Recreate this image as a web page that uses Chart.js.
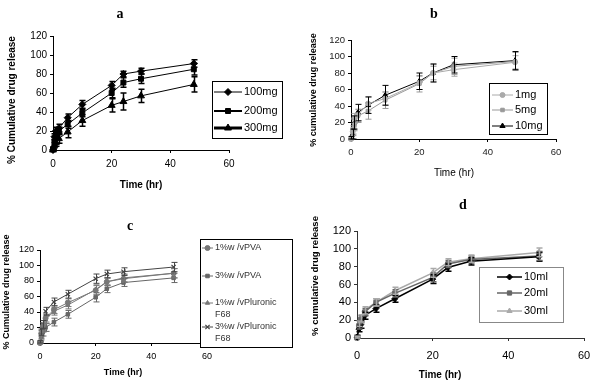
<!DOCTYPE html>
<html>
<head>
<meta charset="utf-8">
<script src="https://cdn.jsdelivr.net/npm/chart.js@4.4.1/dist/chart.umd.min.js"></script>
<style>
  body { margin: 0; width: 600px; height: 384px; background: #fff; position: relative; overflow: hidden; }
  canvas { position: absolute; }
</style>
</head>
<body>
<canvas id="chartA" width="300" height="192" style="left:0;top:0"></canvas>
<canvas id="chartB" width="300" height="192" style="left:300px;top:0"></canvas>
<canvas id="chartC" width="300" height="192" style="left:0;top:192px"></canvas>
<canvas id="chartD" width="300" height="192" style="left:300px;top:192px"></canvas>
<script>
// Tiempos de muestreo (hr)
const hours = [0, 0.5, 1, 2, 5, 10, 20, 24, 30, 48];
const xTicks = [0, 20, 40, 60];
const yTicks = [0, 20, 40, 60, 80, 100, 120];

// Panel a
const labelsA = ['100mg', '200mg', '300mg'];
const a100 = [0, 14, 20, 23, 34, 48, 68, 80, 83, 91];
const a200 = [1, 8, 15, 20, 27, 39, 60, 71, 75, 85];
const a300 = [0, 5, 8, 12, 19, 31, 47, 51, 57, 69];
const errA100 = [1, 3, 4, 4, 4, 4, 4, 3, 3, 4];
const errA200 = [1, 3, 3, 4, 4, 4, 5, 5, 5, 6];
const errA300 = [1, 3, 4, 5, 6, 6, 7, 9, 7, 8];

// Panel b
const labelsB = ['1mg', '5mg', '10mg'];
const b1 = [0, 9, 25, 29, 43, 49, 68, 80, 84, 93];
const b5 = [0, 11, 17, 28, 34, 47, 67, 80, 88, 94];
const b10 = [1, 6, 20, 32, 41, 53, 70, 80, 90, 95];
const errB1 = [1, 5, 6, 7, 8, 8, 8, 8, 8, 8];
const errB5 = [1, 5, 7, 8, 10, 10, 10, 10, 10, 11];
const errB10 = [2, 6, 8, 10, 10, 12, 10, 11, 10, 11];

// Panel c
const labelsC = [['1%w /vPVA'], ['3%w /vPVA'], ['1%w /vPluronic', 'F68'], ['3%w /vPluronic', 'F68']];
const cPva1 = [0, 12, 21, 32, 43, 52, 68, 79, 83, 90];
const cPva3 = [0, 8, 14, 20, 27, 37, 59, 70, 78, 84];
const cPlu1 = [0, 10, 19, 30, 41, 49, 69, 79, 84, 90];
const cPlu3 = [1, 14, 24, 41, 53, 63, 83, 89, 92, 98];
const errC = [2, 4, 5, 5, 5, 5, 6, 5, 5, 6];

// Panel d
const labelsD = ['10ml', '20ml', '30ml'];
const d10 = [1, 10, 15, 25, 33, 44, 66, 79, 86, 91];
const d20 = [0, 13, 21, 29, 40, 50, 68, 83, 88, 92];
const d30 = [0, 16, 22, 31, 40, 53, 73, 85, 89, 96];
const errD = [2, 3, 4, 4, 4, 4, 5, 4, 4, 5];

function pts(vals) {
  return hours.map((t, i) => ({ x: t, y: vals[i] }));
}

function series(label, vals, err, color, style, radius, width, legendWidth) {
  return {
    label: label,
    data: pts(vals),
    err: err,
    borderColor: color,
    backgroundColor: color,
    pointBackgroundColor: color,
    pointBorderColor: color,
    pointStyle: style,
    pointRadius: radius,
    pointBorderWidth: style === 'crossRot' ? 1.2 : 1,
    borderWidth: width,
    tension: 0,
    clip: false,
    legendWidth: legendWidth || width
  };
}

// Plugin: barras de error, textos y leyenda dibujada a mano
const panelDecor = {
  id: 'panelDecor',
  afterDatasetsDraw(chart, args, o) {
    const ctx = chart.ctx;
    const xs = chart.scales.x, ys = chart.scales.y;
    chart.data.datasets.forEach(ds => {
      if (!ds.err) return;
      ctx.save();
      ctx.strokeStyle = ds.borderColor;
      ctx.lineWidth = o.errWidth;
      ds.data.forEach((p, i) => {
        const e = ds.err[i];
        if (!e) return;
        const px = Math.round(xs.getPixelForValue(p.x)) + 0.5;
        const top = ys.getPixelForValue(p.y + e);
        const bot = ys.getPixelForValue(Math.max(p.y - e, 0));
        ctx.beginPath();
        ctx.moveTo(px, top); ctx.lineTo(px, bot);
        ctx.moveTo(px - 3, top); ctx.lineTo(px + 3, top);
        ctx.moveTo(px - 3, bot); ctx.lineTo(px + 3, bot);
        ctx.stroke();
      });
      ctx.restore();
    });
  },
  afterDraw(chart, args, o) {
    const ctx = chart.ctx;
    ctx.save();
    ctx.fillStyle = '#000';
    ctx.textBaseline = 'middle';
    // letra del panel
    ctx.font = 'bold 14px "Liberation Serif"';
    ctx.textAlign = 'center';
    ctx.fillText(o.letter, o.letterPos[0], o.letterPos[1]);
    // título eje x
    ctx.font = o.xFont;
    ctx.fillText('Time (hr)', o.xLabelPos[0], o.xLabelPos[1]);
    // título eje y
    ctx.save();
    ctx.translate(o.yLabelPos[0], o.yLabelPos[1]);
    ctx.rotate(-Math.PI / 2);
    ctx.font = o.yFont;
    ctx.fillText(o.yLabel, 0, 0);
    ctx.restore();
    // leyenda
    const b = o.legendBox;
    ctx.fillStyle = '#fff';
    ctx.fillRect(b[0], b[1], b[2] - b[0], b[3] - b[1]);
    ctx.strokeStyle = o.legendBorder;
    ctx.lineWidth = 1;
    ctx.strokeRect(b[0] + 0.5, b[1] + 0.5, b[2] - b[0], b[3] - b[1]);
    ctx.font = o.legendFont;
    ctx.textAlign = 'left';
    chart.data.datasets.forEach((ds, i) => {
      const y = o.legendRows[i];
      ctx.strokeStyle = ds.borderColor;
      ctx.fillStyle = ds.borderColor;
      ctx.lineWidth = ds.legendWidth;
      ctx.beginPath();
      ctx.moveTo(o.legendLine[0], y);
      ctx.lineTo(o.legendLine[1], y);
      ctx.stroke();
      ctx.lineWidth = ds.pointBorderWidth;
      Chart.helpers.drawPoint(ctx, { pointStyle: ds.pointStyle, radius: ds.pointRadius, rotation: 0, borderWidth: ds.pointBorderWidth },
        (o.legendLine[0] + o.legendLine[1]) / 2, y);
      ctx.fillStyle = o.legendTextColor;
      const lines = Array.isArray(ds.label) ? ds.label : [ds.label];
      lines.forEach((t, k) => ctx.fillText(t, o.legendLine[1] + 2, y + k * o.legendLineGap));
    });
    ctx.restore();
  }
};

function makeChart(id, datasets, geo, tickFont, tickColor) {
  const W = 300, H = 192;
  return new Chart(document.getElementById(id), {
    type: 'line',
    data: { datasets: datasets },
    plugins: [panelDecor],
    options: {
      responsive: false,
      animation: false,
      layout: { padding: { left: 0, bottom: 0, top: geo.area[1], right: W - geo.area[2] } },
      plugins: {
        legend: { display: false },
        tooltip: { enabled: false },
        panelDecor: geo
      },
      scales: {
        x: {
          type: 'linear', min: 0, max: 60,
          afterBuildTicks: s => { s.ticks = xTicks.map(v => ({ value: v })); },
          afterFit: s => { s.height = H - geo.area[3]; },
          grid: { drawOnChartArea: false, color: geo.axisColor, tickLength: 3 },
          border: { color: geo.axisColor, width: 1 },
          ticks: { color: tickColor, font: tickFont, padding: geo.xTickPad, maxRotation: 0 }
        },
        y: {
          min: 0, max: 120,
          afterBuildTicks: s => { s.ticks = yTicks.map(v => ({ value: v })); },
          afterFit: s => { s.width = geo.area[0]; },
          grid: { drawOnChartArea: false, color: geo.axisColor, tickLength: 3 },
          border: { color: geo.axisColor, width: 1 },
          ticks: { color: tickColor, font: tickFont, padding: 3 }
        }
      }
    }
  });
}

makeChart('chartA', [
  series(labelsA[0], a100, errA100, '#000', 'rectRot', 3.5, 1, 1),
  series(labelsA[1], a200, errA200, '#000', 'rect', 3.5, 1, 2),
  series(labelsA[2], a300, errA300, '#000', 'triangle', 4, 1, 3)
], {
  area: [53, 36, 229, 150], axisColor: '#000', xTickPad: 5, errWidth: 1.5,
  letter: 'a', letterPos: [120, 14],
  xLabelPos: [141, 185], xFont: 'bold 10px "Liberation Sans"',
  yLabel: '% Cumulative drug release', yLabelPos: [12, 100], yFont: 'bold 10px "Liberation Sans"',
  legendBox: [212, 81, 282, 138], legendRows: [92, 111, 128], legendLine: [214, 242], legendBorder: '#000',
  legendFont: '11px "Liberation Sans"', legendTextColor: '#000', legendLineGap: 11
}, { family: 'Liberation Sans', size: 10 }, '#000');

makeChart('chartB', [
  series(labelsB[0], b1, errB1, '#aaa', 'circle', 2.5, 1),
  series(labelsB[1], b5, errB5, '#999', 'rect', 2.5, 1),
  series(labelsB[2], b10, errB10, '#000', 'triangle', 3, 1)
], {
  area: [51, 40, 256, 139], axisColor: '#000', xTickPad: 5, errWidth: 1,
  letter: 'b', letterPos: [134, 14],
  xLabelPos: [154, 173], xFont: '10px "Liberation Sans"',
  yLabel: '% cumulative drug release', yLabelPos: [14, 90], yFont: 'bold 9px "Liberation Sans"',
  legendBox: [189, 83, 247, 134], legendRows: [95, 110, 126], legendLine: [192, 213], legendBorder: '#000',
  legendFont: '11px "Liberation Sans"', legendTextColor: '#000', legendLineGap: 11
}, { family: 'Liberation Sans', size: 9.5 }, '#222');

makeChart('chartC', [
  series(labelsC[0], cPva1, errC, '#777', 'circle', 2.5, 1),
  series(labelsC[1], cPva3, errC, '#666', 'rect', 2.5, 1),
  series(labelsC[2], cPlu1, errC, '#777', 'triangle', 2.5, 1),
  series(labelsC[3], cPlu3, errC, '#444', 'crossRot', 3, 1)
], {
  area: [40, 58, 207, 151], axisColor: '#000', xTickPad: 5, errWidth: 1,
  letter: 'c', letterPos: [130, 34],
  xLabelPos: [123, 181], xFont: 'bold 9px "Liberation Sans"',
  yLabel: '% Cumulative drug release', yLabelPos: [7, 100], yFont: 'bold 9px "Liberation Sans"',
  legendBox: [200, 47, 292, 155], legendRows: [56, 84, 111, 135], legendLine: [202, 213], legendBorder: '#000',
  legendFont: '9px "Liberation Sans"', legendTextColor: '#333', legendLineGap: 12
}, { family: 'Liberation Sans', size: 9 }, '#000');

makeChart('chartD', [
  series(labelsD[0], d10, errD, '#000', 'rectRot', 3, 1.5),
  series(labelsD[1], d20, errD, '#666', 'rect', 3, 1.5),
  series(labelsD[2], d30, errD, '#aaa', 'triangle', 3, 1.5)
], {
  area: [57, 39, 284, 146], axisColor: '#333', xTickPad: 8, errWidth: 1.5,
  letter: 'd', letterPos: [163, 13],
  xLabelPos: [140, 183], xFont: 'bold 10px "Liberation Sans"',
  yLabel: '% cumulative drug release', yLabelPos: [15, 84], yFont: 'bold 9.5px "Liberation Sans"',
  legendBox: [179, 75, 263, 130], legendRows: [85, 101, 119], legendLine: [197, 222], legendBorder: '#888',
  legendFont: '11px "Liberation Sans"', legendTextColor: '#000', legendLineGap: 11
}, { family: 'Liberation Sans', size: 11 }, '#000');
</script>
</body>
</html>
